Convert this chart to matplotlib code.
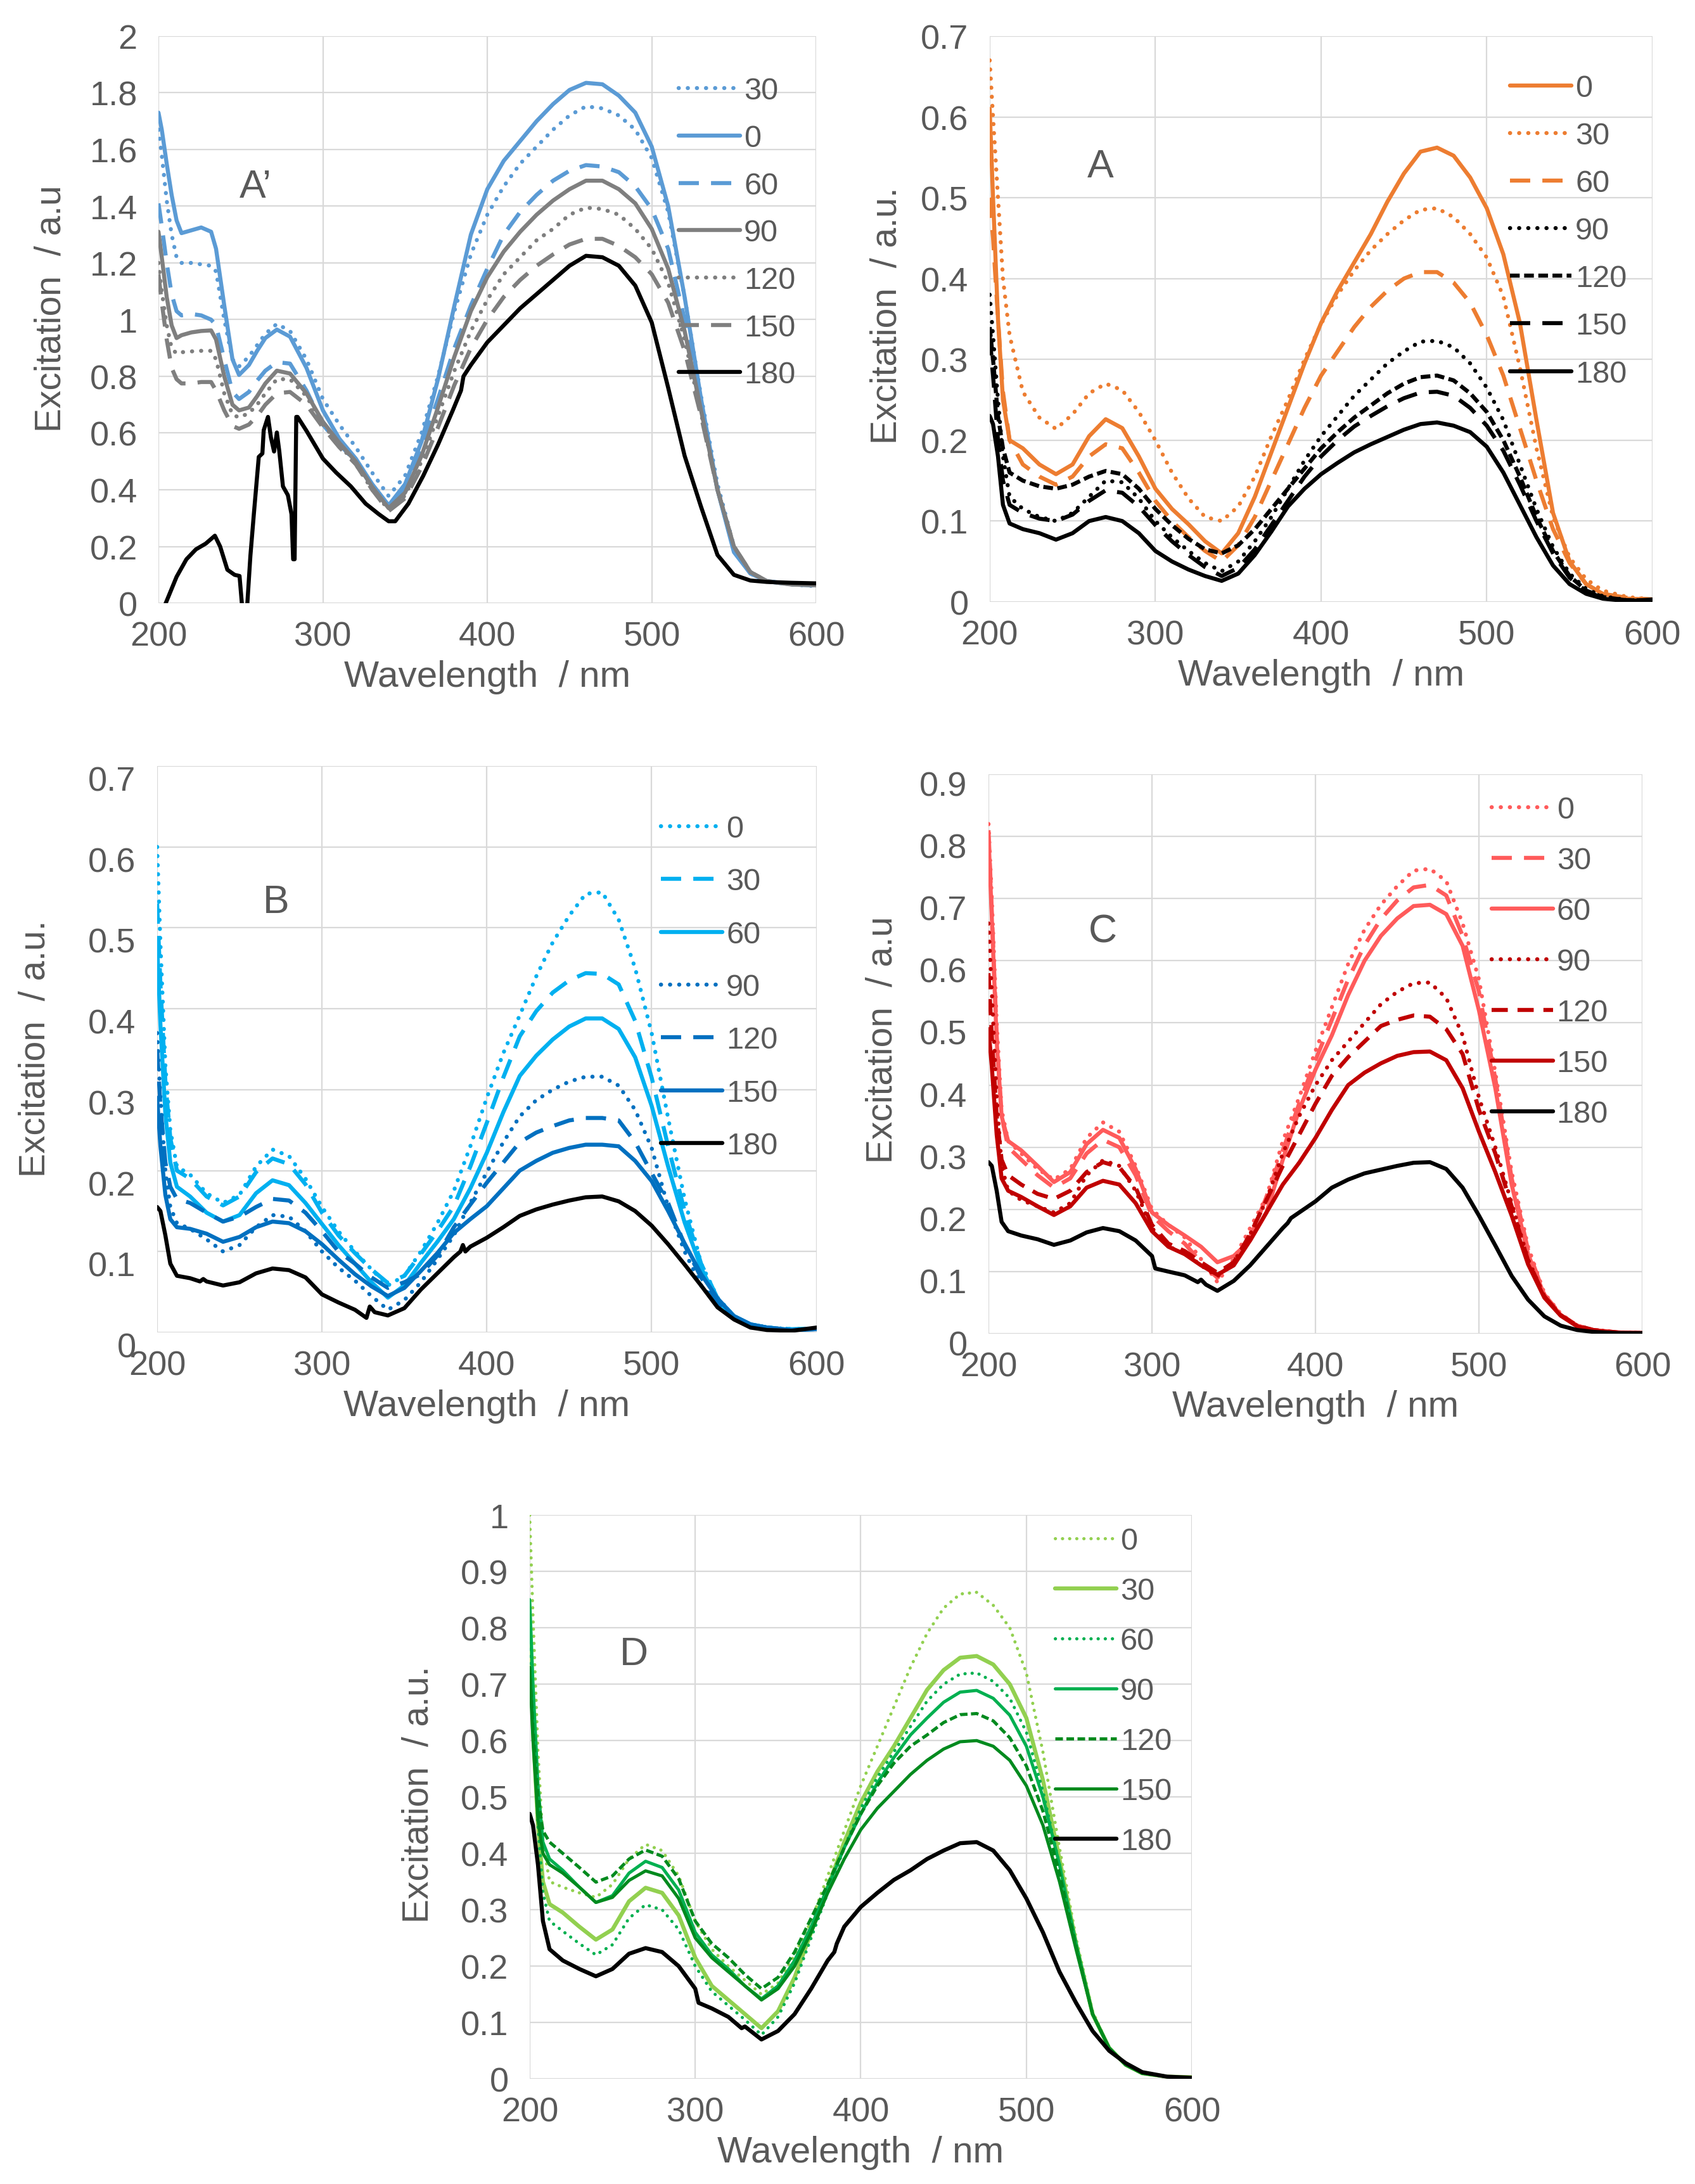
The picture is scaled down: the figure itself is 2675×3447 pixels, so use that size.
import matplotlib.pyplot as plt
from matplotlib.ticker import MultipleLocator, FuncFormatter
from matplotlib.transforms import ScaledTranslation

plt.rcParams['font.family'] = ['Liberation Sans', 'DejaVu Sans']

# ---------------------------------------------------------------- data
# wavelength grid (nm) used by most of the curves
wl = [200, 202, 205, 208, 212, 220, 230, 240, 250, 260, 270, 280, 290, 300, 310, 320, 330, 340,
      350, 360, 370, 380, 390, 400, 410, 420, 430, 440, 450, 460, 470, 480, 490, 500, 510, 520,
      530, 540, 550, 560, 570, 585, 600]
times = ['0', '30', '60', '90', '120', '150', '180']

# panel A' (finer grid, the UV part has plateaus)
wl_a1 = [200, 202, 205, 208, 211, 214, 220, 226, 232, 235, 240, 245, 249, 255, 260, 265, 272,
         280, 290, 300, 310, 320, 330, 340, 350, 360, 370, 380, 390, 400, 410, 420, 430, 440,
         450, 460, 470, 480, 490, 500, 510, 520, 530, 540, 550, 560, 570, 585, 600]
a1_30 = [1.67, 1.58, 1.42, 1.3, 1.22, 1.2, 1.2, 1.195, 1.19, 1.17, 1.0, 0.86, 0.835,
         0.87, 0.91, 0.95, 0.985, 0.96, 0.86, 0.72, 0.63, 0.55, 0.46, 0.378, 0.45, 0.6, 0.8,
         1.03, 1.23, 1.37, 1.47, 1.55, 1.61, 1.67, 1.72, 1.752, 1.745, 1.72, 1.67, 1.57, 1.38,
         1.08, 0.73, 0.42, 0.2, 0.11, 0.078, 0.066, 0.06]
a1_0 = [1.73, 1.67, 1.55, 1.44, 1.35, 1.305, 1.315, 1.325, 1.31, 1.25, 1.05, 0.86, 0.805,
        0.84, 0.89, 0.935, 0.965, 0.94, 0.83, 0.68, 0.58, 0.51, 0.42, 0.345, 0.42, 0.57, 0.79,
        1.05, 1.3, 1.46, 1.56, 1.63, 1.7, 1.76, 1.81, 1.835, 1.83, 1.79, 1.73, 1.61, 1.4,
        1.08, 0.72, 0.4, 0.18, 0.105, 0.078, 0.067, 0.063]
a1_60 = [1.41, 1.33, 1.2, 1.09, 1.03, 1.015, 1.02, 1.015, 1.0, 0.98, 0.86, 0.745, 0.72,
         0.745, 0.785, 0.82, 0.85, 0.845, 0.75, 0.63, 0.56, 0.5, 0.41, 0.34, 0.41, 0.55, 0.72,
         0.9, 1.05, 1.18, 1.3, 1.38, 1.44, 1.49, 1.525, 1.545, 1.54, 1.52, 1.47, 1.39, 1.25,
         1.0, 0.69, 0.4, 0.19, 0.105, 0.077, 0.066, 0.063]
a1_90 = [1.31, 1.22, 1.08, 0.98, 0.935, 0.945, 0.955, 0.96, 0.962, 0.93, 0.8, 0.7, 0.68,
         0.69, 0.73, 0.775, 0.82, 0.81, 0.74, 0.64, 0.565, 0.5, 0.41, 0.335, 0.39, 0.52, 0.69,
         0.87, 1.03, 1.15, 1.24, 1.31, 1.37, 1.42, 1.46, 1.49, 1.49, 1.46, 1.41, 1.32, 1.18,
         0.96, 0.68, 0.4, 0.2, 0.11, 0.077, 0.066, 0.063]
a1_120 = [1.2, 1.1, 0.98, 0.9, 0.88, 0.885, 0.888, 0.89, 0.89, 0.86, 0.74, 0.665, 0.655,
          0.67, 0.7, 0.74, 0.79, 0.79, 0.73, 0.63, 0.56, 0.49, 0.4, 0.33, 0.38, 0.5, 0.66,
          0.82, 0.96, 1.07, 1.16, 1.22, 1.28, 1.32, 1.37, 1.395, 1.39, 1.37, 1.32, 1.25, 1.13,
          0.93, 0.67, 0.4, 0.2, 0.11, 0.078, 0.067, 0.065]
a1_150 = [1.16, 1.06, 0.93, 0.83, 0.79, 0.775, 0.775, 0.78, 0.78, 0.75, 0.68, 0.625, 0.615,
          0.63, 0.66, 0.7, 0.74, 0.745, 0.7, 0.62, 0.55, 0.49, 0.4, 0.325, 0.37, 0.48, 0.62,
          0.77, 0.9, 1.0, 1.08, 1.14, 1.19, 1.23, 1.265, 1.285, 1.285, 1.26, 1.22, 1.16, 1.06,
          0.89, 0.66, 0.4, 0.2, 0.11, 0.078, 0.067, 0.065]
wl_a1_180 = [201, 204.4, 211, 217, 222.8, 228.7, 234.3, 237.5, 241.9, 246.3, 249.3, 250.7, 252,
              253.5, 255.9, 258, 261, 263.2, 264, 266.6, 268.4, 270.3, 272, 273.5, 275.7, 278.7,
              280.9, 281.9, 282.8, 283.8, 284.6, 290, 300, 308, 317, 326, 334, 340, 344, 352,
              361, 370, 379, 384, 385.5, 390, 400, 410, 420, 430, 440, 450, 460, 470, 480, 490,
              500, 510, 520, 530, 540, 550, 560, 570, 585, 600]
a1_180 = [-0.06, 0.0, 0.093, 0.155, 0.19, 0.21, 0.238, 0.2, 0.118, 0.1, 0.096, 0.0, -0.05,
          -0.05, 0.167, 0.314, 0.516, 0.528, 0.61, 0.657, 0.584, 0.535, 0.602, 0.535, 0.412,
          0.381, 0.314, 0.155, 0.155, 0.657, 0.657, 0.608, 0.51, 0.461, 0.412, 0.351, 0.314,
          0.289, 0.289, 0.351, 0.449, 0.559, 0.68, 0.75, 0.8, 0.84, 0.92, 0.98, 1.04, 1.09,
          1.14, 1.19, 1.225, 1.22, 1.19, 1.12, 0.99, 0.76, 0.52, 0.34, 0.17, 0.1, 0.08, 0.075,
          0.072, 0.07]

# panel A
a_0 = [0.61, 0.5, 0.35, 0.25, 0.2, 0.19, 0.17, 0.158, 0.17, 0.205, 0.226, 0.215, 0.18, 0.14,
       0.115, 0.096, 0.075, 0.06, 0.085, 0.13, 0.185, 0.24, 0.295, 0.345, 0.385, 0.42, 0.455,
       0.495, 0.53, 0.557, 0.562, 0.552, 0.525, 0.487, 0.43, 0.345, 0.225, 0.11, 0.05, 0.022,
       0.01, 0.004, 0.003]
a_30 = [0.67, 0.6, 0.5, 0.4, 0.33, 0.26, 0.228, 0.214, 0.232, 0.258, 0.27, 0.262, 0.235, 0.2,
        0.16, 0.128, 0.105, 0.1, 0.118, 0.155, 0.205, 0.25, 0.3, 0.344, 0.38, 0.41, 0.435,
        0.455, 0.472, 0.485, 0.487, 0.476, 0.455, 0.426, 0.378, 0.29, 0.19, 0.105, 0.055,
        0.028, 0.014, 0.006, 0.003]
a_60 = [0.5, 0.45, 0.35, 0.26, 0.2, 0.17, 0.155, 0.145, 0.155, 0.18, 0.195, 0.19, 0.16, 0.125,
        0.1, 0.08, 0.063, 0.05, 0.07, 0.105, 0.15, 0.195, 0.24, 0.28, 0.31, 0.34, 0.365, 0.385,
        0.4, 0.408, 0.408, 0.395, 0.37, 0.33, 0.28, 0.215, 0.15, 0.09, 0.048, 0.022, 0.01,
        0.005, 0.003]
a_90 = [0.38, 0.33, 0.25, 0.18, 0.13, 0.115, 0.105, 0.1, 0.11, 0.13, 0.15, 0.148, 0.128, 0.1,
        0.08, 0.063, 0.048, 0.038, 0.05, 0.075, 0.105, 0.14, 0.175, 0.205, 0.23, 0.255, 0.275,
        0.295, 0.31, 0.322, 0.323, 0.315, 0.295, 0.265, 0.225, 0.17, 0.115, 0.068, 0.035,
        0.016, 0.007, 0.002, 0.002]
a_120 = [0.34, 0.3, 0.23, 0.19, 0.16, 0.15, 0.143, 0.14, 0.145, 0.155, 0.162, 0.158, 0.14,
         0.115, 0.095, 0.078, 0.065, 0.06, 0.07, 0.09, 0.115, 0.14, 0.165, 0.19, 0.21, 0.228,
         0.243, 0.258, 0.27, 0.278, 0.28, 0.274, 0.258, 0.235, 0.2, 0.155, 0.105, 0.063, 0.032,
         0.014, 0.006, 0.002, 0.002]
a_150 = [0.33, 0.28, 0.2, 0.15, 0.12, 0.11, 0.103, 0.1, 0.108, 0.125, 0.138, 0.135, 0.118,
         0.095, 0.075, 0.058, 0.043, 0.032, 0.042, 0.065, 0.095, 0.125, 0.155, 0.18, 0.2, 0.217,
         0.23, 0.242, 0.252, 0.259, 0.26, 0.255, 0.24, 0.218, 0.187, 0.145, 0.1, 0.06, 0.03,
         0.013, 0.005, 0.002, 0.002]
a_180 = [0.23, 0.22, 0.18, 0.12, 0.097, 0.09, 0.085, 0.077, 0.085, 0.1, 0.105, 0.1, 0.085,
         0.063, 0.05, 0.04, 0.032, 0.026, 0.035, 0.058, 0.087, 0.118, 0.14, 0.158, 0.172, 0.185,
         0.195, 0.204, 0.213, 0.22, 0.222, 0.218, 0.21, 0.192, 0.16, 0.12, 0.08, 0.045, 0.022,
         0.01, 0.004, 0.001, 0.003]

# panel B
b_0 = [0.6, 0.48, 0.33, 0.25, 0.205, 0.195, 0.172, 0.16, 0.17, 0.205, 0.226, 0.218, 0.19,
       0.155, 0.125, 0.1, 0.078, 0.058, 0.07, 0.1, 0.135, 0.175, 0.23, 0.29, 0.345, 0.392, 0.44,
       0.482, 0.515, 0.542, 0.544, 0.51, 0.45, 0.37, 0.265, 0.165, 0.085, 0.043, 0.02, 0.01,
       0.006, 0.004, 0.005]
b_30 = [0.53, 0.43, 0.31, 0.24, 0.2, 0.19, 0.168, 0.157, 0.168, 0.198, 0.215, 0.208, 0.183,
        0.148, 0.12, 0.098, 0.078, 0.061, 0.07, 0.097, 0.125, 0.156, 0.205, 0.259, 0.315, 0.366,
        0.397, 0.42, 0.435, 0.444, 0.443, 0.43, 0.385, 0.315, 0.23, 0.15, 0.085, 0.042, 0.02,
        0.01, 0.006, 0.004, 0.005]
b_60 = [0.48, 0.38, 0.27, 0.21, 0.18, 0.168, 0.148, 0.137, 0.145, 0.172, 0.188, 0.182, 0.16,
        0.134, 0.108, 0.085, 0.062, 0.043, 0.058, 0.086, 0.112, 0.14, 0.178, 0.222, 0.272,
        0.317, 0.342, 0.362, 0.378, 0.388, 0.388, 0.375, 0.34, 0.28, 0.205, 0.136, 0.08, 0.038,
        0.02, 0.01, 0.006, 0.003, 0.005]
b_90 = [0.37, 0.29, 0.2, 0.155, 0.135, 0.128, 0.115, 0.1, 0.108, 0.13, 0.145, 0.143, 0.125,
        0.1, 0.08, 0.064, 0.045, 0.028, 0.04, 0.062, 0.09, 0.12, 0.16, 0.198, 0.235, 0.267,
        0.287, 0.3, 0.31, 0.316, 0.316, 0.305, 0.275, 0.228, 0.155, 0.1, 0.058, 0.036, 0.02,
        0.01, 0.006, 0.003, 0.004]
b_120 = [0.35, 0.28, 0.21, 0.18, 0.165, 0.16, 0.148, 0.137, 0.143, 0.155, 0.165, 0.163, 0.148,
         0.125, 0.1, 0.085, 0.068, 0.055, 0.062, 0.072, 0.095, 0.13, 0.158, 0.185, 0.21, 0.235,
         0.247, 0.255, 0.262, 0.265, 0.265, 0.262, 0.235, 0.197, 0.16, 0.108, 0.068, 0.038,
         0.02, 0.01, 0.006, 0.003, 0.004]
b_150 = [0.29, 0.23, 0.17, 0.14, 0.13, 0.128, 0.122, 0.112, 0.118, 0.13, 0.137, 0.135, 0.125,
         0.109, 0.09, 0.072, 0.057, 0.045, 0.055, 0.076, 0.098, 0.123, 0.14, 0.156, 0.178, 0.2,
         0.212, 0.222, 0.228, 0.232, 0.232, 0.23, 0.212, 0.187, 0.15, 0.11, 0.072, 0.042, 0.02,
         0.01, 0.006, 0.003, 0.004]
wl_b_180 = [200, 202, 205, 208, 212, 220, 226, 228, 230, 240, 250, 260, 270, 280, 290, 300,
            310, 320, 327, 329, 332, 340, 350, 360, 370, 380, 384, 385.5, 387, 390, 400, 410,
            420, 430, 440, 450, 460, 470, 480, 490, 500, 510, 520, 530, 540, 550, 560, 570,
            585, 600]
b_180 = [0.155, 0.15, 0.12, 0.085, 0.07, 0.067, 0.063, 0.066, 0.063, 0.058, 0.062, 0.073,
         0.079, 0.077, 0.068, 0.047, 0.037, 0.028, 0.018, 0.032, 0.025, 0.021, 0.03, 0.053,
         0.073, 0.093, 0.1, 0.108, 0.1, 0.106, 0.117, 0.13, 0.144, 0.152, 0.158, 0.163, 0.167,
         0.168, 0.162, 0.15, 0.132, 0.109, 0.084, 0.058, 0.031, 0.016, 0.006, 0.003, 0.002,
         0.006]

# panel C
c_0 = [0.82, 0.7, 0.5, 0.36, 0.31, 0.29, 0.265, 0.248, 0.265, 0.315, 0.34, 0.325, 0.27, 0.2,
       0.175, 0.155, 0.12, 0.083, 0.12, 0.17, 0.22, 0.31, 0.38, 0.455, 0.525, 0.595, 0.65, 0.69,
       0.72, 0.745, 0.748, 0.728, 0.66, 0.57, 0.42, 0.26, 0.14, 0.065, 0.032, 0.013, 0.006,
       0.002, 0.001]
c_30 = [0.81, 0.68, 0.48, 0.35, 0.3, 0.28, 0.255, 0.235, 0.25, 0.29, 0.312, 0.3, 0.255, 0.19,
        0.165, 0.145, 0.115, 0.09, 0.115, 0.155, 0.22, 0.295, 0.37, 0.44, 0.505, 0.57, 0.625,
        0.667, 0.697, 0.718, 0.722, 0.705, 0.64, 0.55, 0.41, 0.25, 0.135, 0.063, 0.031, 0.013,
        0.006, 0.002, 0.001]
c_60 = [0.8, 0.67, 0.47, 0.35, 0.31, 0.295, 0.27, 0.244, 0.26, 0.305, 0.328, 0.315, 0.265,
        0.195, 0.175, 0.158, 0.14, 0.115, 0.125, 0.15, 0.195, 0.28, 0.36, 0.425, 0.48, 0.545,
        0.6, 0.64, 0.668, 0.688, 0.69, 0.675, 0.624, 0.52, 0.395, 0.24, 0.128, 0.062, 0.03,
        0.013, 0.006, 0.002, 0.001]
c_90 = [0.66, 0.55, 0.38, 0.27, 0.23, 0.215, 0.205, 0.195, 0.21, 0.255, 0.279, 0.27, 0.23,
        0.17, 0.14, 0.13, 0.11, 0.092, 0.115, 0.16, 0.215, 0.29, 0.35, 0.4, 0.44, 0.47, 0.5,
        0.53, 0.55, 0.564, 0.565, 0.54, 0.48, 0.38, 0.3, 0.21, 0.12, 0.06, 0.03, 0.013, 0.006,
        0.002, 0.001]
c_120 = [0.58, 0.48, 0.35, 0.28, 0.255, 0.24, 0.225, 0.217, 0.23, 0.26, 0.276, 0.268, 0.235,
         0.175, 0.145, 0.133, 0.115, 0.098, 0.115, 0.16, 0.215, 0.27, 0.32, 0.37, 0.415, 0.445,
         0.47, 0.495, 0.505, 0.512, 0.51, 0.49, 0.45, 0.36, 0.29, 0.205, 0.118, 0.06, 0.03,
         0.013, 0.006, 0.002, 0.001]
c_150 = [0.49, 0.43, 0.32, 0.25, 0.23, 0.22, 0.205, 0.191, 0.205, 0.235, 0.246, 0.24, 0.21,
         0.165, 0.14, 0.128, 0.11, 0.095, 0.11, 0.15, 0.195, 0.24, 0.275, 0.315, 0.36, 0.4,
         0.42, 0.435, 0.447, 0.453, 0.454, 0.44, 0.395, 0.325, 0.26, 0.19, 0.112, 0.058, 0.029,
         0.012, 0.005, 0.002, 0.001]
wl_c_180 = [200, 202, 205, 208, 212, 220, 230, 240, 250, 260, 270, 280, 290, 300, 302, 310,
            320, 328, 330, 333, 340, 350, 360, 370, 380, 383, 385, 390, 400, 410, 420, 430, 440,
            450, 460, 470, 480, 490, 500, 510, 520, 530, 540, 550, 560, 570, 585, 600]
c_180 = [0.276, 0.27, 0.23, 0.18, 0.165, 0.158, 0.152, 0.143, 0.15, 0.163, 0.17, 0.165, 0.15,
         0.125, 0.105, 0.1, 0.094, 0.083, 0.087, 0.079, 0.069, 0.085, 0.11, 0.14, 0.17, 0.178,
         0.186, 0.195, 0.213, 0.235, 0.248, 0.258, 0.264, 0.27, 0.275, 0.276, 0.265, 0.235,
         0.19, 0.142, 0.093, 0.055, 0.028, 0.013, 0.006, 0.003, 0.001, 0.001]

# panel D
d_0 = [1.0, 0.82, 0.58, 0.42, 0.35, 0.34, 0.33, 0.322, 0.345, 0.39, 0.416, 0.405, 0.36, 0.28,
       0.23, 0.2, 0.175, 0.15, 0.17, 0.22, 0.28, 0.36, 0.44, 0.52, 0.59, 0.66, 0.73, 0.79,
       0.835, 0.86, 0.863, 0.84, 0.8, 0.72, 0.58, 0.41, 0.25, 0.12, 0.055, 0.025, 0.01, 0.004,
       0.002]
d_30 = [0.78, 0.62, 0.45, 0.35, 0.31, 0.295, 0.27, 0.247, 0.265, 0.315, 0.339, 0.33, 0.29,
        0.215, 0.165, 0.14, 0.115, 0.09, 0.12, 0.18, 0.26, 0.34, 0.42, 0.49, 0.545, 0.59, 0.64,
        0.69, 0.725, 0.747, 0.75, 0.735, 0.7, 0.64, 0.53, 0.39, 0.24, 0.115, 0.055, 0.025,
        0.01, 0.004, 0.003]
d_60 = [0.8, 0.65, 0.45, 0.33, 0.28, 0.262, 0.24, 0.22, 0.238, 0.285, 0.309, 0.3, 0.265, 0.2,
        0.155, 0.13, 0.105, 0.078, 0.11, 0.17, 0.25, 0.33, 0.41, 0.48, 0.535, 0.58, 0.625,
        0.67, 0.7, 0.718, 0.72, 0.705, 0.675, 0.615, 0.51, 0.38, 0.235, 0.115, 0.055, 0.025,
        0.01, 0.004, 0.002]
d_90 = [0.85, 0.7, 0.52, 0.42, 0.39, 0.37, 0.34, 0.313, 0.325, 0.365, 0.386, 0.375, 0.335,
        0.26, 0.22, 0.195, 0.165, 0.142, 0.165, 0.21, 0.27, 0.34, 0.41, 0.47, 0.525, 0.57,
        0.61, 0.64, 0.668, 0.686, 0.689, 0.675, 0.645, 0.59, 0.5, 0.38, 0.24, 0.115, 0.055,
        0.025, 0.01, 0.004, 0.002]
d_120 = [0.73, 0.62, 0.5, 0.44, 0.42, 0.4, 0.375, 0.349, 0.36, 0.39, 0.406, 0.395, 0.355, 0.28,
         0.24, 0.215, 0.185, 0.16, 0.18, 0.225, 0.285, 0.345, 0.41, 0.47, 0.52, 0.56, 0.59,
         0.61, 0.632, 0.646, 0.648, 0.635, 0.605, 0.555, 0.475, 0.365, 0.235, 0.115, 0.055,
         0.025, 0.01, 0.004, 0.002]
d_150 = [0.73, 0.6, 0.46, 0.4, 0.38, 0.365, 0.34, 0.313, 0.322, 0.352, 0.369, 0.36, 0.32,
         0.25, 0.215, 0.19, 0.165, 0.14, 0.16, 0.2, 0.26, 0.33, 0.39, 0.442, 0.48, 0.51, 0.54,
         0.565, 0.585, 0.598, 0.6, 0.59, 0.565, 0.52, 0.45, 0.35, 0.23, 0.115, 0.055, 0.025,
         0.01, 0.004, 0.002]
wl_d_180 = [200, 202, 205, 208, 212, 220, 230, 240, 250, 260, 270, 280, 290, 300, 302, 310,
            320, 328, 330, 340, 350, 360, 370, 380, 384, 385.5, 390, 400, 410, 420, 430, 440,
            450, 460, 470, 480, 490, 500, 510, 520, 530, 540, 550, 560, 570, 585, 600]
d_180 = [0.47, 0.45, 0.38, 0.28, 0.23, 0.21, 0.195, 0.182, 0.195, 0.222, 0.232, 0.225, 0.2,
         0.16, 0.135, 0.125, 0.11, 0.09, 0.093, 0.07, 0.085, 0.115, 0.16, 0.21, 0.225, 0.24,
         0.27, 0.305, 0.33, 0.353, 0.37, 0.39, 0.405, 0.418, 0.42, 0.405, 0.37, 0.32, 0.26,
         0.19, 0.135, 0.085, 0.05, 0.028, 0.012, 0.004, 0.002]

# ---------------------------------------------------------------- styles
GREY_TXT = '#595959'
GRID = '#D9D9D9'
DOT = (0, (0.05, 2.2))
DASH = (0, (4.0, 2.4))
LDASH = (0, (5.0, 3.0))
SDASH = (0, (2.4, 1.1))

BLUE, GREY = '#5B9BD5', '#7F7F7F'
ORANGE = '#ED7D31'
SKY, NAVY = '#00B0F0', '#0070C0'
PINK, RED = '#FF5B5B', '#C00000'
LIME, GREEN, DKGREEN = '#92D050', '#00B050', '#008A1E'

W = 4.6
WD = 3.6
panels = [
    dict(rect=[0.0935, 0.7236, 0.388, 0.2596], ymax=2.0, ystep=0.2,
         ylabel='Excitation  / a.u', ylab_xy=(-0.163, 0.52), letter='A\u2019', letter_xy=(259, 1.47),
         leg=(0.791, 0.928), lsp=0.61, shift=0,
         curves=[(wl_a1, a1_30, '30', BLUE, DOT, W), (wl_a1, a1_0, '0', BLUE, '-', W),
                 (wl_a1, a1_60, '60', BLUE, LDASH, W), (wl_a1, a1_90, '90', GREY, '-', W),
                 (wl_a1, a1_120, '120', GREY, DOT, W), (wl_a1, a1_150, '150', GREY, LDASH, W),
                 (wl_a1_180, a1_180, '180', 'black', '-', W)]),
    dict(rect=[0.5839, 0.7242, 0.391, 0.259], ymax=0.7, ystep=0.1,
         ylabel='Excitation  / a.u.', ylab_xy=(-0.155, 0.507), letter='A', letter_xy=(267, 0.539),
         leg=(0.785, 0.933), lsp=0.62, shift=0,
         curves=[(wl, a_0, times[0], ORANGE, '-', W), (wl, a_30, times[1], ORANGE, DOT, W),
                 (wl, a_60, times[2], ORANGE, LDASH, W), (wl, a_90, times[3], 'black', DOT, W),
                 (wl, a_120, times[4], 'black', SDASH, W), (wl, a_150, times[5], 'black', LDASH, W),
                 (wl, a_180, times[6], 'black', '-', W)]),
    dict(rect=[0.0927, 0.3898, 0.389, 0.2593], ymax=0.7, ystep=0.1,
         ylabel='Excitation  / a.u.', ylab_xy=(-0.185, 0.502), letter='B', letter_xy=(272, 0.532),
         leg=(0.764, 0.914), lsp=0.79, shift=19,
         curves=[(wl, b_0, times[0], SKY, DOT, W), (wl, b_30, times[1], SKY, LDASH, W),
                 (wl, b_60, times[2], SKY, '-', W), (wl, b_90, times[3], NAVY, DOT, W),
                 (wl, b_120, times[4], NAVY, LDASH, W), (wl, b_150, times[5], NAVY, '-', W),
                 (wl_b_180, b_180, times[6], 'black', '-', W)]),
    dict(rect=[0.5832, 0.3892, 0.3858, 0.2561], ymax=0.9, ystep=0.1,
         ylabel='Excitation  / a.u', ylab_xy=(-0.162, 0.527), letter='C', letter_xy=(270, 0.647),
         leg=(0.769, 0.961), lsp=0.72, shift=14,
         curves=[(wl, c_0, times[0], PINK, DOT, W), (wl, c_30, times[1], PINK, LDASH, W),
                 (wl, c_60, times[2], PINK, '-', W), (wl, c_90, times[3], RED, DOT, W),
                 (wl, c_120, times[4], RED, DASH, W), (wl, c_150, times[5], RED, '-', W),
                 (wl_c_180, c_180, times[6], 'black', '-', W)]),
    dict(rect=[0.3125, 0.0481, 0.3907, 0.2581], ymax=1.0, ystep=0.1,
         ylabel='Excitation  / a.u.', ylab_xy=(-0.168, 0.506), letter='D', letter_xy=(263, 0.754),
         leg=(0.793, 0.979), lsp=0.7, shift=0,
         curves=[(wl, d_0, times[0], LIME, DOT, WD), (wl, d_30, times[1], LIME, '-', W),
                 (wl, d_60, times[2], GREEN, DOT, WD), (wl, d_90, times[3], GREEN, '-', WD),
                 (wl, d_120, times[4], DKGREEN, SDASH, WD), (wl, d_150, times[5], DKGREEN, '-', WD),
                 (wl_d_180, d_180, times[6], 'black', '-', W)]),
]

fig = plt.figure(figsize=(26.75, 34.48), dpi=100)
axes = []
for p in panels:
    ax = fig.add_axes(p['rect'])
    for x, y, lab, col, ls, lw in p['curves']:
        ax.plot(x, y, color=col, lw=lw, linestyle=ls, label=lab,
                dash_capstyle='round' if ls == DOT else 'butt',
                solid_capstyle='round', solid_joinstyle='round')
    ax.set_xlim(200, 600)
    ax.set_ylim(0, p['ymax'])
    ax.xaxis.set_major_locator(MultipleLocator(100))
    ax.yaxis.set_major_locator(MultipleLocator(p['ystep']))
    ax.yaxis.set_major_formatter(FuncFormatter(lambda v, pos: f'{v:g}'))
    ax.grid(True, color=GRID, lw=1.6)
    ax.set_axisbelow(True)
    for s in ax.spines.values():
        s.set_visible(False)
    ax.tick_params(length=0, labelsize=39, labelcolor=GREY_TXT)
    ax.tick_params(axis='y', pad=24)
    ax.tick_params(axis='x', pad=20)
    ax.set_xlabel('Wavelength  / nm', fontsize=42, color=GREY_TXT, va='center')
    ax.xaxis.set_label_coords(0.5, -0.13)
    ax.set_ylabel(p['ylabel'], fontsize=41, color=GREY_TXT, va='center')
    ax.yaxis.set_label_coords(*p['ylab_xy'])
    ax.text(*p['letter_xy'], p['letter'], fontsize=45, color=GREY_TXT, ha='center', va='center')
    ax.legend(loc='upper left', bbox_to_anchor=p['leg'], frameon=False, fontsize=35,
              labelspacing=p['lsp'], handlelength=2.0, handletextpad=0.12, borderpad=0,
              borderaxespad=0, labelcolor=GREY_TXT)
    axes.append(ax)

# in B and C the value labels sit a little below their gridlines
fig.canvas.draw()
for ax, p in zip(axes, panels):
    if p['shift']:
        off = ScaledTranslation(0, -p['shift'] / 100, fig.dpi_scale_trans)
        for t in ax.yaxis.get_major_ticks():
            t.label1.set_transform(t.label1.get_transform() + off)

fig.savefig('out.png', dpi=100)
